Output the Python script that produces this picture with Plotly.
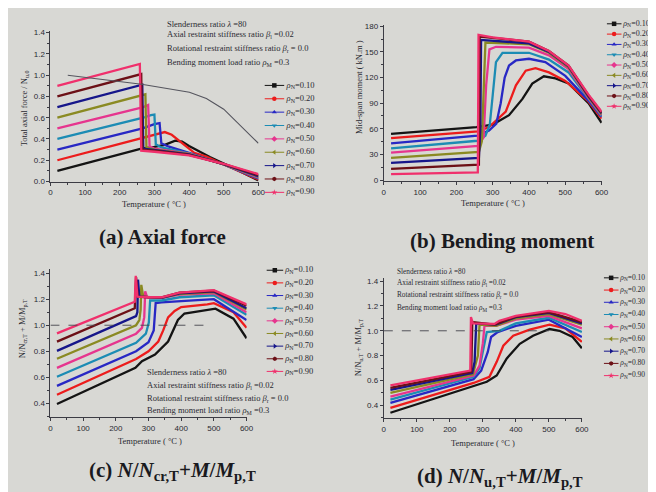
import plotly.graph_objects as go

W, H = 656, 492
def px(x): return x / W
def py(y): return 1 - y / H

RHO = ["0.10", "0.20", "0.30", "0.40", "0.50", "0.60", "0.70", "0.80", "0.90"]
COLORS = ["#141414", "#ec1c1c", "#2828c4", "#1c8cb4", "#e6358e", "#8a8a22", "#16168a", "#6c1016", "#f0306c"]
SYMBOLS = ["square", "circle", "triangle-up", "triangle-down", "diamond",
           "triangle-left", "triangle-right", "hexagon", "star"]

# ---------------- (a) Axial force ----------------
A_T = [
    [20, 262, 300, 330, 360, 380, 400, 430, 460, 500, 600],
    [20, 265, 300, 330, 350, 385, 415, 450, 500, 600],
    [20, 266, 300, 315, 320, 340, 400, 500, 600],
    [20, 268, 290, 300, 304, 320, 400, 500, 600],
    [20, 268, 282, 286, 300, 400, 500, 600],
    [20, 266, 274, 277, 300, 400, 500, 600],
    [20, 265, 268, 300, 400, 500, 600],
    [20, 262, 265, 300, 400, 500, 600],
    [20, 258, 262, 300, 400, 500, 600],
]
A_V = [
    [0.10, 0.31, 0.325, 0.345, 0.385, 0.375, 0.335, 0.28, 0.23, 0.17, 0.01],
    [0.20, 0.41, 0.44, 0.465, 0.44, 0.35, 0.27, 0.235, 0.16, 0.02],
    [0.30, 0.50, 0.54, 0.55, 0.36, 0.33, 0.27, 0.16, 0.03],
    [0.40, 0.60, 0.625, 0.63, 0.35, 0.32, 0.265, 0.16, 0.035],
    [0.50, 0.70, 0.72, 0.33, 0.31, 0.262, 0.16, 0.04],
    [0.60, 0.81, 0.82, 0.32, 0.30, 0.26, 0.162, 0.045],
    [0.70, 0.91, 0.31, 0.295, 0.255, 0.163, 0.05],
    [0.80, 1.01, 0.30, 0.29, 0.25, 0.165, 0.06],
    [0.90, 1.105, 0.29, 0.28, 0.245, 0.167, 0.07],
]
CRIT_T = [50, 263, 401, 450, 500, 600]
CRIT_V = [1.0, 0.915, 0.84, 0.78, 0.68, 0.36]

# ---------------- (b) Bending moment ----------------
B_T = [
    [20, 255, 300, 345, 382, 409, 441, 473, 509, 564, 600],
    [20, 260, 290, 336, 364, 391, 418, 455, 500, 564, 600],
    [20, 258, 290, 310, 322, 333, 345, 364, 400, 445, 500, 564, 600],
    [20, 258, 280, 292, 300, 309, 327, 400, 455, 509, 564, 600],
    [20, 260, 275, 282, 291, 309, 400, 455, 509, 564, 600],
    [20, 262, 270, 276, 280, 400, 455, 509, 564, 600],
    [20, 262, 266, 268, 400, 455, 509, 564, 600],
    [20, 262, 264, 400, 455, 509, 564, 600],
    [20, 259, 261, 300, 400, 455, 509, 564, 600],
]
B_V = [
    [54, 62, 65, 76, 95, 113, 121.5, 119, 113, 90, 67],
    [49, 57, 62, 80, 111, 128, 131, 126, 116, 92, 72],
    [43, 52, 58, 66, 90, 120, 134, 140, 142, 138, 122, 93, 74],
    [37, 46, 52, 65, 99, 138, 149, 149, 141, 126, 95, 75],
    [32, 40, 50, 111, 153, 156, 155, 146, 130, 96, 76],
    [26, 33, 45, 120, 161, 159, 149, 132, 97, 77],
    [20, 26, 60, 164, 160, 150, 133, 98, 78],
    [13, 18, 168, 162, 151, 134, 99, 79],
    [7, 9, 170, 167, 162, 151, 134, 100, 80],
]

# ---------------- (c) N/Ncr,T + M/Mp,T ----------------
C_T = [
    [20, 260, 280, 320, 360, 390, 410, 480, 505, 560, 600],
    [20, 262, 300, 330, 345, 360, 380, 400, 480, 500, 560, 600],
    [20, 262, 300, 316, 322, 340, 400, 500, 600],
    [20, 262, 292, 301, 305, 340, 395, 500, 600],
    [20, 262, 280, 287, 290, 296, 340, 395, 500, 600],
    [20, 262, 272, 276, 278, 284, 340, 395, 500, 600],
    [20, 262, 266, 268, 272, 300, 340, 395, 500, 600],
    [20, 258, 262, 267, 300, 340, 395, 500, 600],
    [20, 258, 261, 266, 300, 340, 395, 500, 600],
]
C_V = [
    [0.395, 0.673, 0.723, 0.774, 0.875, 1.04, 1.09, 1.115, 1.127, 1.05, 0.90],
    [0.466, 0.74, 0.80, 0.875, 0.96, 1.06, 1.11, 1.14, 1.16, 1.17, 1.10, 0.98],
    [0.534, 0.80, 0.87, 0.96, 1.17, 1.175, 1.185, 1.20, 1.04],
    [0.604, 0.865, 0.935, 1.02, 1.19, 1.19, 1.215, 1.23, 1.08],
    [0.672, 0.935, 0.98, 1.06, 1.26, 1.215, 1.21, 1.235, 1.245, 1.10],
    [0.742, 1.00, 1.04, 1.12, 1.31, 1.22, 1.21, 1.24, 1.255, 1.12],
    [0.803, 1.07, 1.10, 1.35, 1.22, 1.215, 1.21, 1.245, 1.26, 1.13],
    [0.874, 1.13, 1.37, 1.22, 1.215, 1.215, 1.25, 1.265, 1.15],
    [0.937, 1.18, 1.38, 1.22, 1.215, 1.215, 1.25, 1.27, 1.16],
]
C_REF_T = [0, 480]
C_REF_V = [1.0, 1.0]

# ---------------- (d) N/Nu,T + M/Mp,T ----------------
D_T = [
    [20, 272, 312, 342, 372, 412, 452, 502, 532, 572, 600],
    [20, 272, 320, 342, 362, 392, 442, 502, 550, 600],
    [20, 272, 295, 315, 325, 345, 400, 500, 600],
    [20, 272, 290, 302, 312, 350, 400, 500, 600],
    [20, 272, 290, 300, 305, 340, 400, 500, 600],
    [20, 270, 285, 290, 340, 400, 500, 600],
    [20, 268, 275, 280, 340, 400, 500, 600],
    [20, 265, 268, 335, 400, 500, 600],
    [20, 262, 264, 270, 335, 350, 400, 500, 550, 600],
]
D_V = [
    [0.34, 0.555, 0.59, 0.64, 0.776, 0.895, 0.96, 1.014, 1.0, 0.95, 0.86],
    [0.38, 0.58, 0.63, 0.75, 0.88, 0.96, 1.01, 1.05, 1.02, 0.91],
    [0.42, 0.61, 0.68, 0.83, 0.95, 0.99, 1.04, 1.09, 0.95],
    [0.445, 0.63, 0.70, 0.86, 0.99, 1.0, 1.06, 1.105, 0.99],
    [0.47, 0.64, 0.72, 0.90, 1.04, 1.04, 1.09, 1.12, 1.02],
    [0.50, 0.65, 0.80, 1.05, 1.04, 1.10, 1.135, 1.05],
    [0.525, 0.66, 0.75, 1.06, 1.05, 1.11, 1.145, 1.06],
    [0.54, 0.67, 1.07, 1.05, 1.115, 1.15, 1.07],
    [0.56, 0.68, 1.11, 1.06, 1.055, 1.08, 1.12, 1.16, 1.135, 1.08],
]
D_REF_T = [0, 500]
D_REF_V = [1.0, 1.0]

PARAM_LINES = [
    "Slenderness ratio <i>λ</i> =80",
    "Axial restraint stiffness ratio <i>β</i><sub>l</sub> =0.02",
    "Rotational restraint stiffness ratio <i>β</i><sub>r</sub> = 0.0",
    "Bending moment load ratio <i>ρ</i><sub>M</sub> =0.3",
]

BG = "#d8d8d4"
INK = "#2a2a32"
SERIF = "Liberation Serif"
SANS = "Liberation Sans"

fig = go.Figure()

panels = [
    dict(T=A_T, V=A_V, xd=(41, 252), yd=(174, 20.8), yr=(0, 1.42), dt=0.2, mdt=0.1, fmt=".1f",
         leg=dict(x0=258, x1=278, y0=76.5, dy=13.56, fs=8.5),
         par=dict(x=157, ys=[14, 25, 39, 53], fs=8.5),
         ytitle=("Total axial force / N<sub>u,0</sub>", 15, 100),
         xtitle=(146, 197),
         title=("<b>(a) Axial force</b>", 155, 230)),
    dict(T=B_T, V=B_V, xd=(379, 600), yd=(173.8, 14.8), yr=(-1.5, 182), dt=30, mdt=15, fmt="d",
         leg=dict(x0=605, x1=620, y0=14, dy=10.46, fs=8),
         par=None,
         ytitle=("Mid-span moment ( kN.m )", 354, 78),
         xtitle=(490, 196),
         title=("<b>(b) Bending moment</b>", 499, 234)),
    dict(T=C_T, V=C_V, xd=(41, 240), yd=(413, 263), yr=(0.294, 1.43), dt=0.2, mdt=0.1, fmt=".1f",
         leg=dict(x0=260, x1=277, y0=264, dy=12.83, fs=8.5),
         par=dict(x=137, ys=[367, 381, 394, 406], fs=8.5),
         ytitle=("N/N<sub>cr,T</sub> + M/M<sub>p,T</sub>", 13, 323),
         xtitle=(142, 437),
         title=("<b>(c) <i>N</i>/<i>N</i><sub>cr,T</sub>+<i>M</i>/<i>M</i><sub>p,T</sub></b>", 165, 468)),
    dict(T=D_T, V=D_V, xd=(379, 580), yd=(414, 272), yr=(0.297, 1.424), dt=0.2, mdt=0.1, fmt=".1f",
         leg=dict(x0=602, x1=617, y0=271.7, dy=12.4, fs=7.5),
         par=dict(x=390, ys=[265, 277, 289, 302], fs=7.3),
         ytitle=("N/N<sub>u,T</sub> + M/M<sub>p,T</sub>", 353, 342),
         xtitle=(480, 439),
         title=("<b>(d) <i>N</i>/<i>N</i><sub>u,T</sub>+<i>M</i>/<i>M</i><sub>p,T</sub></b>", 497, 474)),
]

LEG_TEXT_X = 1.12   # legend label position, in units of the legend line length

annotations = []
layout_axes = {}

for k, p in enumerate(panels):
    n = k + 1
    xa = "x" if n == 1 else f"x{n}"
    ya = "y" if n == 1 else f"y{n}"
    for i in range(len(RHO)):
        fig.add_trace(go.Scatter(
            x=p["T"][i], y=p["V"][i], mode="lines", xaxis=xa, yaxis=ya,
            line=dict(color=COLORS[i], width=2.3), showlegend=False, hoverinfo="skip"))
    axis_common = dict(showline=True, linecolor="#3c3c44", linewidth=1, ticks="outside",
                       ticklen=3, tickwidth=1, tickcolor="#3c3c44", showgrid=False,
                       zeroline=False, tickfont=dict(family=SANS, size=8, color=INK))
    layout_axes[f"xaxis{'' if n == 1 else n}"] = dict(
        domain=[px(p["xd"][0]), px(p["xd"][1])], range=[0, 600.5], anchor=ya,
        tick0=0, dtick=100,
        minor=dict(ticks="outside", ticklen=2, dtick=50, tickcolor="#3c3c44"),
        **axis_common)
    layout_axes[f"yaxis{'' if n == 1 else n}"] = dict(
        domain=[py(p["yd"][0]), py(p["yd"][1])], range=list(p["yr"]), anchor=xa,
        tick0=0 if n == 2 else 0.4, dtick=p["dt"], tickformat=p["fmt"],
        minor=dict(ticks="outside", ticklen=2, dtick=p["mdt"], tickcolor="#3c3c44"),
        **axis_common)

    # manual legend drawn on its own hidden axes (entry index -> row)
    lg = p["leg"]
    ln = n + 4
    lxa, lya = f"x{ln}", f"y{ln}"
    nent = len(RHO)
    seg = lg["x1"] - lg["x0"]
    layout_axes[f"xaxis{ln}"] = dict(domain=[px(lg["x0"]), px(lg["x0"] + seg * LEG_TEXT_X)],
                                     range=[0, LEG_TEXT_X], visible=False, anchor=lya)
    layout_axes[f"yaxis{ln}"] = dict(
        domain=[py(lg["y0"] + (nent - 0.5) * lg["dy"]), py(lg["y0"] - 0.5 * lg["dy"])],
        range=[nent - 0.5, -0.5], visible=False, anchor=lxa)
    for i, r in enumerate(RHO):
        fig.add_trace(go.Scatter(
            x=[0, 1], y=[i, i], mode="lines", xaxis=lxa, yaxis=lya,
            line=dict(color=COLORS[i], width=1), cliponaxis=False,
            showlegend=False, hoverinfo="skip"))
        fig.add_trace(go.Scatter(
            x=[0.5], y=[i], mode="markers", xaxis=lxa, yaxis=lya,
            marker=dict(symbol=SYMBOLS[i], size=4.5, color=COLORS[i]), cliponaxis=False,
            showlegend=False, hoverinfo="skip"))
        fig.add_trace(go.Scatter(
            x=[LEG_TEXT_X], y=[i], mode="text", xaxis=lxa, yaxis=lya,
            text=[f"<i>ρ</i><sub>N</sub>=" + r], textposition="middle right",
            textfont=dict(family=SERIF, size=lg["fs"], color=INK),
            cliponaxis=False, showlegend=False, hoverinfo="skip"))

    if p["par"] is not None:
        for t, yy in zip(PARAM_LINES, p["par"]["ys"]):
            annotations.append(dict(text=t, x=px(p["par"]["x"]), y=py(yy), xref="paper", yref="paper",
                                    xanchor="left", yanchor="middle", showarrow=False,
                                    font=dict(family=SERIF, size=p["par"]["fs"], color=INK)))
    yt, yx, yy = p["ytitle"]
    annotations.append(dict(text=yt, x=px(yx), y=py(yy), xref="paper", yref="paper",
                            xanchor="center", yanchor="middle", textangle=-90, showarrow=False,
                            font=dict(family=SERIF, size=8.5, color=INK)))
    xx, xy = p["xtitle"]
    annotations.append(dict(text="Temperature ( °C )", x=px(xx), y=py(xy), xref="paper", yref="paper",
                            xanchor="center", yanchor="middle", showarrow=False,
                            font=dict(family=SERIF, size=8.5, color=INK)))
    tt, tx, ty = p["title"]
    annotations.append(dict(text=tt, x=px(tx), y=py(ty), xref="paper", yref="paper",
                            xanchor="center", yanchor="middle", showarrow=False,
                            font=dict(family=SERIF, size=21, color="#1a1a1e")))

# extra lines
fig.add_trace(go.Scatter(x=CRIT_T, y=CRIT_V, mode="lines", xaxis="x", yaxis="y",
                         line=dict(color="#55555e", width=1.1), showlegend=False, hoverinfo="skip"))
fig.add_trace(go.Scatter(x=C_REF_T, y=C_REF_V, mode="lines", xaxis="x3", yaxis="y3",
                         line=dict(color="#44444c", width=0.9, dash="dash"), showlegend=False,
                         hoverinfo="skip"))
fig.add_trace(go.Scatter(x=D_REF_T, y=D_REF_V, mode="lines", xaxis="x4", yaxis="y4",
                         line=dict(color="#44444c", width=0.9, dash="dash"), showlegend=False,
                         hoverinfo="skip"))

fig.update_layout(width=W, height=H, margin=dict(l=0, r=0, t=0, b=0),
                  paper_bgcolor=BG, plot_bgcolor=BG, showlegend=False,
                  annotations=annotations, **layout_axes)

fig.write_html("out.html")
